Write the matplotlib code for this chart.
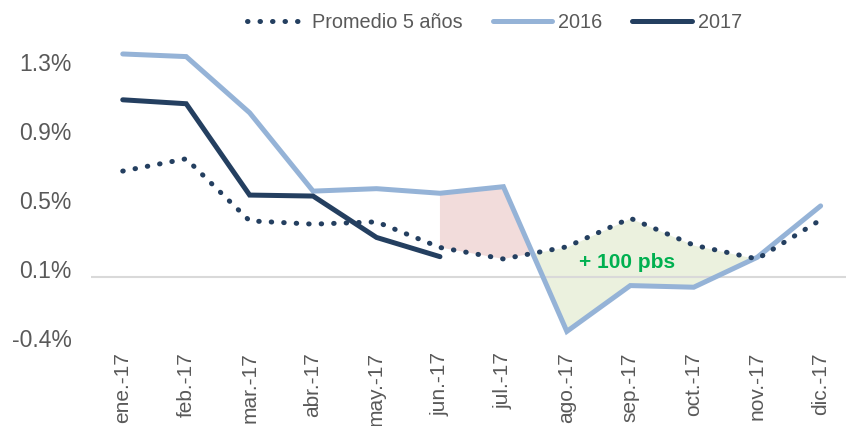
import matplotlib
matplotlib.use("Agg")
import matplotlib.pyplot as plt
import numpy as np

plt.rcParams["font.family"] = ["Liberation Sans", "DejaVu Sans"]

meses = ["ene.-17", "feb.-17", "mar.-17", "abr.-17", "may.-17", "jun.-17",
         "jul.-17", "ago.-17", "sep.-17", "oct.-17", "nov.-17", "dic.-17"]
promedio = [0.646, 0.721, 0.343, 0.323, 0.337, 0.181, 0.111, 0.185, 0.359, 0.195, 0.111, 0.349]
v2016 = [1.359, 1.343, 1.001, 0.524, 0.539, 0.511, 0.551, -0.330, -0.051, -0.061, 0.121, 0.434]
v2017 = [1.080, 1.056, 0.500, 0.494, 0.242, 0.125]
yticks = [-0.37, 0.05, 0.47, 0.89, 1.31]
ylabels = ["-0.4%", "0.1%", "0.5%", "0.9%", "1.3%"]

navy = "#243f60"
light = "#95b3d7"

fig = plt.figure(figsize=(8.46, 4.26), dpi=100)
ax = fig.add_axes([0.1076, 0.1831, 0.8924, 0.7230])

x = np.arange(len(meses))
p = np.array(promedio)
a = np.array(v2016)

# shaded gaps between 2016 and the 5-year average, jun..nov
xs = x[5:11]
ax.fill_between(xs, a[5:11], p[5:11], where=a[5:11] >= p[5:11], interpolate=True,
                color="#f2dcdb", lw=0, zorder=1)
ax.fill_between(xs, a[5:11], p[5:11], where=a[5:11] <= p[5:11], interpolate=True,
                color="#ebf1de", lw=0, zorder=1)

ax.axhline(0, color="#d9d9d9", lw=1.5, zorder=2)

ax.plot(x, promedio, color=navy, lw=3.6, linestyle=(0, (0.1, 2.4)),
        dash_capstyle="round", label="Promedio 5 años", zorder=4)
ax.plot(x, v2016, color=light, lw=3.6, solid_capstyle="round",
        solid_joinstyle="miter", label="2016", zorder=3)
ax.plot(x[:len(v2017)], v2017, color=navy, lw=3.6, solid_capstyle="round",
        solid_joinstyle="miter", label="2017", zorder=5)

ax.text(7.95, 0.09, "+ 100 pbs", color="#00b050", fontsize=15,
        fontweight="bold", ha="center", va="center", zorder=6)

ax.set_xlim(-0.5, 11.4)
ax.set_ylim(-0.431, 1.444)
ax.set_xticks(x)
ax.set_xticklabels(meses, rotation=90, fontsize=15, color="#595959")
ax.set_yticks(yticks)
ax.set_yticklabels(ylabels, fontsize=16.5, color="#595959")
ax.tick_params(axis="both", length=0)
ax.tick_params(axis="y", pad=14)
ax.tick_params(axis="x", pad=3)
for s in ax.spines.values():
    s.set_visible(False)

fig.legend(loc="center right", bbox_to_anchor=(742 / 846, 1 - 22 / 426), ncol=3,
           frameon=False, fontsize=14.3, handlelength=3.0, handletextpad=0.3,
           columnspacing=1.5, labelcolor="#595959", borderaxespad=0, borderpad=0)

fig.savefig("out.png", dpi=100)
